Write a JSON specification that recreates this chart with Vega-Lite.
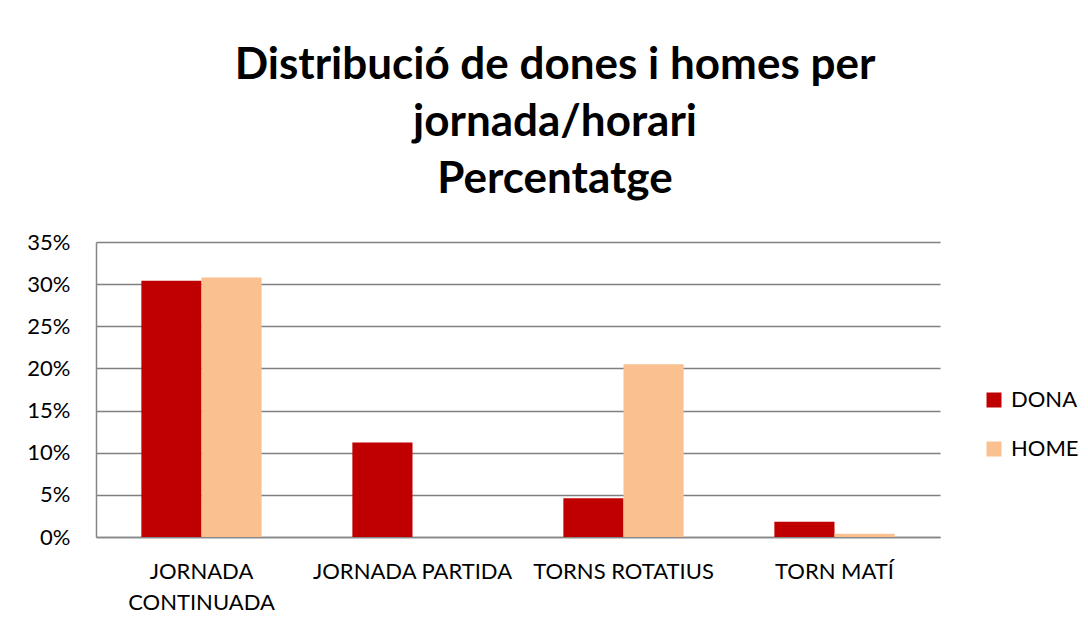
{
  "$schema": "https://vega.github.io/schema/vega-lite/v6.json",
  "width": 844,
  "height": 295,
  "autosize": {"type": "none"},
  "padding": {"left": 96, "top": 242, "right": 148, "bottom": 91},
  "background": "white",
  "title": {
    "text": ["Distribució de dones i homes per", "jornada/horari", "Percentatge"],
    "font": "Lato",
    "fontSize": 44,
    "fontWeight": "bold",
    "color": "#000000",
    "lineHeight": 57,
    "anchor": "middle",
    "frame": "group",
    "dx": 37,
    "offset": 29
  },
  "data": {
    "values": [
      {"jornada": "JORNADA CONTINUADA", "sexe": "DONA", "pct": 0.304},
      {"jornada": "JORNADA CONTINUADA", "sexe": "HOME", "pct": 0.308},
      {"jornada": "JORNADA PARTIDA", "sexe": "DONA", "pct": 0.112},
      {"jornada": "JORNADA PARTIDA", "sexe": "HOME", "pct": 0.0},
      {"jornada": "TORNS ROTATIUS", "sexe": "DONA", "pct": 0.046},
      {"jornada": "TORNS ROTATIUS", "sexe": "HOME", "pct": 0.205},
      {"jornada": "TORN MATÍ", "sexe": "DONA", "pct": 0.018},
      {"jornada": "TORN MATÍ", "sexe": "HOME", "pct": 0.004}
    ]
  },
  "mark": {"type": "bar"},
  "encoding": {
    "x": {
      "field": "jornada",
      "type": "nominal",
      "sort": ["JORNADA CONTINUADA", "JORNADA PARTIDA", "TORNS ROTATIUS", "TORN MATÍ"],
      "scale": {"paddingInner": 0.43, "paddingOuter": 0.215},
      "axis": {
        "title": null,
        "labelAngle": 0,
        "ticks": false,
        "domain": true,
        "domainColor": "#868686",
        "domainWidth": 1.5,
        "labelFont": "Lato",
        "labelFontSize": 22,
        "labelColor": "#000000",
        "labelPadding": 24,
        "labelLineHeight": 31,
        "labelExpr": "datum.label == 'JORNADA CONTINUADA' ? ['JORNADA', 'CONTINUADA'] : datum.label",
        "labelLimit": 300
      }
    },
    "xOffset": {"field": "sexe", "type": "nominal", "sort": ["DONA", "HOME"]},
    "y": {
      "field": "pct",
      "type": "quantitative",
      "scale": {"domain": [0, 0.35], "nice": false},
      "axis": {
        "title": null,
        "format": ".0%",
        "values": [0, 0.05, 0.1, 0.15, 0.2, 0.25, 0.3, 0.35],
        "ticks": false,
        "domain": true,
        "domainColor": "#868686",
        "domainWidth": 1.5,
        "grid": true,
        "gridColor": "#808080",
        "gridWidth": 1.5,
        "labelFont": "Lato",
        "labelFontSize": 22,
        "labelColor": "#000000",
        "labelPadding": 26
      }
    },
    "color": {
      "field": "sexe",
      "type": "nominal",
      "scale": {"domain": ["DONA", "HOME"], "range": ["#C00000", "#FAC090"]},
      "legend": {
        "title": null,
        "orient": "none",
        "legendX": 887,
        "legendY": 147,
        "symbolType": "square",
        "symbolSize": 225,
        "symbolStrokeWidth": 0,
        "labelFont": "Lato",
        "labelFontSize": 22,
        "labelColor": "#000000",
        "labelOffset": 6,
        "rowPadding": 27,
        "padding": 0
      }
    }
  },
  "config": {
    "view": {"stroke": null}
  }
}
